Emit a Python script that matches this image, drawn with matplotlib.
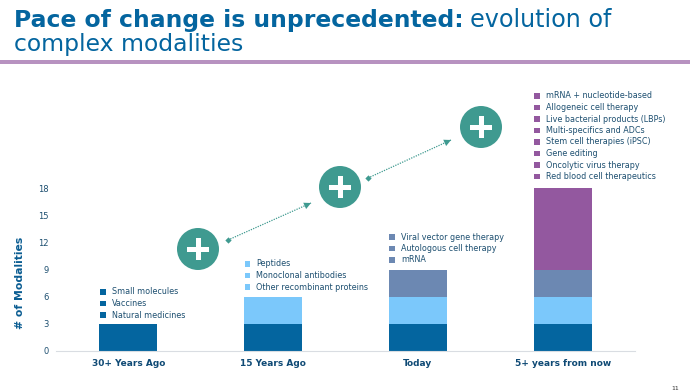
"""Pace of change slide: stacked modality counts per period."""

import matplotlib
matplotlib.use("Agg")
import matplotlib.pyplot as plt
from matplotlib.patches import Circle, Rectangle

W, H = 690, 391

periods = ["30+ Years Ago", "15 Years Ago", "Today", "5+ years from now"]
small_molecules = [3, 3, 3, 3]
biologics = [0, 3, 3, 3]
gene_cell = [0, 0, 3, 3]
next_gen = [0, 0, 0, 9]
y_ticks = [0, 3, 6, 9, 12, 15, 18]

labels_30 = ["Small molecules", "Vaccines", "Natural medicines"]
labels_15 = ["Peptides", "Monoclonal antibodies", "Other recombinant proteins"]
labels_today = ["Viral vector gene therapy", "Autologous cell therapy", "mRNA"]
labels_future = [
    "mRNA + nucleotide-based", "Allogeneic cell therapy",
    "Live bacterial products (LBPs)", "Multi-specifics and ADCs",
    "Stem cell therapies (iPSC)", "Gene editing",
    "Oncolytic virus therapy", "Red blood cell therapeutics",
]

BLUE = "#04659f"
LIGHT = "#7bc8fb"
SLATE = "#6c88b2"
PURPLE = "#93589f"
TEAL = "#3f9a90"
NAVY = "#1d4f70"
DARK = "#0f4a75"

plt.rcParams["font.family"] = "DejaVu Sans"
fig = plt.figure(figsize=(W / 100, H / 100), dpi=100, facecolor="white")


def px_axes(left, top, right, bottom):
    return fig.add_axes([left / W, 1 - bottom / H, (right - left) / W, (bottom - top) / H])


# main chart
ax = px_axes(56, 188, 635, 351)
x = list(range(len(periods)))
bottom = [0, 0, 0, 0]
for values, color in [(small_molecules, BLUE), (biologics, LIGHT), (gene_cell, SLATE), (next_gen, PURPLE)]:
    ax.bar(x, values, width=0.4, bottom=bottom, color=color)
    bottom = [b + v for b, v in zip(bottom, values)]
ax.set_xlim(-0.5, 3.5)
ax.set_ylim(0, 18)
ax.set_yticks(y_ticks)
ax.set_xticks(x, periods, fontsize=6.5, fontweight="bold", color=DARK)
ax.tick_params(axis="both", length=0)
ax.tick_params(axis="x", pad=6)
ax.tick_params(axis="y", labelsize=6, labelcolor=NAVY, pad=5.5)
for side in ["top", "right", "left"]:
    ax.spines[side].set_visible(False)
ax.spines["bottom"].set_color("#d9dde2")

# overlay in pixel coordinates for the slide furniture
over = fig.add_axes([0, 0, 1, 1], facecolor="none")
over.set_xlim(0, W)
over.set_ylim(H, 0)
over.axis("off")

over.text(20, 283, "# of Modalities", fontsize=7.8, fontweight="bold", color="#0b5d92",
          rotation=90, ha="center", va="center")

over.text(14, 20, "Pace of change is unprecedented:", fontsize=16.9, fontweight="bold",
          color="#04659f", va="center")
over.text(470, 20, "evolution of", fontsize=17.2, color="#04659f", va="center")
over.text(14, 45, "complex modalities", fontsize=16.9, color="#04659f", va="center")
over.add_patch(Rectangle((0, 60), W, 3.5, color="#b792c0", lw=0))

# per-bar lists of modalities
for names, left, top, color in [
    (labels_30, 100, 292, BLUE),
    (labels_15, 244.5, 264, LIGHT),
    (labels_today, 389, 237, SLATE),
    (labels_future, 534, 96, PURPLE),
]:
    for i, name in enumerate(names):
        y = top + i * 11.5
        over.add_patch(Rectangle((left, y - 2.8), 5.6, 5.6, color=color, lw=0))
        over.text(left + 12, y, name, fontsize=5.75, color=NAVY, va="center")

# plus badges
for cx, cy in [(198, 249), (340, 187), (481, 127)]:
    over.add_patch(Circle((cx, cy), 21, color=TEAL, lw=0))
    over.add_patch(Rectangle((cx - 11, cy - 2.5), 22, 5, color="white", lw=0))
    over.add_patch(Rectangle((cx - 2.5, cy - 11), 5, 22, color="white", lw=0))

# dotted connectors
for x0, y0, x1, y1 in [(228, 240, 311, 203), (368, 178, 451, 140)]:
    over.plot([x0, x1], [y0, y1], color=TEAL, lw=0.9, ls=(0, (1, 1)))
    over.plot([x0], [y0], marker="D", ms=3.2, color=TEAL, mew=0)
    over.annotate("", xy=(x1, y1), xytext=(x1 - 7, y1 + 3.2),
                  arrowprops=dict(arrowstyle="-|>,head_length=0.5,head_width=0.25",
                                  color=TEAL, lw=0, shrinkA=0, shrinkB=0))

over.text(675, 388, "11", fontsize=4.5, color="#333333", ha="center", va="center")

fig.savefig("out.png", dpi=100)
plt.close(fig)
